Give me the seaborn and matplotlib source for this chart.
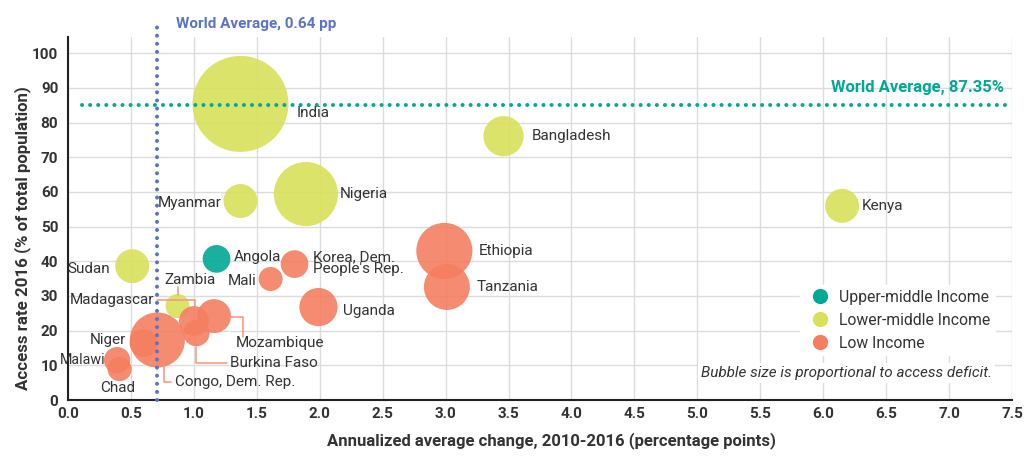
import matplotlib
matplotlib.use("Agg")
import matplotlib.pyplot as plt
import seaborn as sns
import pandas as pd
from matplotlib.lines import Line2D

# ---------------- data ----------------
countries = ["India", "Bangladesh", "Nigeria", "Myanmar", "Kenya", "Ethiopia", "Tanzania",
             "Uganda", "Angola", "Korea, Dem.\nPeople's Rep.", "Mali", "Sudan", "Zambia",
             "Madagascar", "Mozambique", "Burkina Faso", "Congo, Dem. Rep.", "Niger",
             "Malawi", "Chad"]
change = [1.37, 3.46, 1.89, 1.37, 6.15, 2.99, 3.01, 1.99, 1.18, 1.80, 1.61, 0.51, 0.87,
          1.00, 1.16, 1.02, 0.71, 0.60, 0.39, 0.41]
access = [85.4, 76.1, 59.4, 57.4, 56.0, 43.0, 32.6, 26.8, 40.7, 39.2, 34.9, 38.6, 27.1,
          22.8, 24.2, 19.3, 17.3, 16.4, 11.5, 8.9]
deficit = [240, 42, 107, 30, 30, 82, 55, 38, 20, 20, 15, 30, 15, 23, 30, 18, 79, 20, 18, 15]
income = ["Lower-middle Income", "Lower-middle Income", "Lower-middle Income",
          "Lower-middle Income", "Lower-middle Income", "Low Income", "Low Income",
          "Low Income", "Upper-middle Income", "Low Income", "Low Income",
          "Lower-middle Income", "Lower-middle Income", "Low Income", "Low Income",
          "Low Income", "Low Income", "Low Income", "Low Income", "Low Income"]
groups = ["Upper-middle Income", "Lower-middle Income", "Low Income"]
world_avg_change_label = "World Average, 0.64 pp"
world_avg_access_label = "World Average, 87.35%"
world_avg_change_pos = 0.71
world_avg_access_pos = 85.2

# ---------------- style ----------------
palette = {"Upper-middle Income": "#00a896", "Lower-middle Income": "#d9e05a",
           "Low Income": "#f47e60"}
BLUE = "#5b73c6"
TEAL = "#00a896"
LEADER = "#f4957c"
TXT = "#333333"

sns.set_theme(style="whitegrid")
plt.rcParams['font.family'] = ['Roboto', 'DejaVu Sans']

df = pd.DataFrame({"country": countries, "change": change, "access": access,
                   "deficit": deficit, "income": income})

fig = plt.figure(figsize=(10.24, 4.69), dpi=100)
ax = fig.add_axes([68 / 1024, 69 / 469, 944 / 1024, 363 / 469])

smax = (96 * 0.72) ** 2
sns.scatterplot(data=df, x="change", y="access", hue="income", palette=palette,
                size="deficit", sizes=(0, smax), size_norm=(0, max(deficit)),
                alpha=0.9, linewidth=0, legend=False, ax=ax, zorder=3)

ax.set_xlim(0, 7.5)
ax.set_ylim(0, 104.7)
ax.set_xticks([i * 0.5 for i in range(16)])
ax.set_xticklabels([f"{i * 0.5:.1f}" for i in range(16)])
ax.set_yticks(range(0, 101, 10))
ax.grid(True, color="#dcdcdc", lw=1)
for s in ["top", "right"]:
    ax.spines[s].set_visible(False)
for s in ["left", "bottom"]:
    ax.spines[s].set_color("#222222")
    ax.spines[s].set_linewidth(1.5)
ax.tick_params(axis="both", length=0, labelsize=11, labelcolor=TXT)
ax.tick_params(axis="x", pad=5)
ax.tick_params(axis="y", pad=7)
for lab in ax.get_xticklabels() + ax.get_yticklabels():
    lab.set_fontweight("bold")
ax.set_xlabel("Annualized average change, 2010-2016 (percentage points)",
              fontsize=12, fontweight="bold", color=TXT)
ax.set_ylabel("Access rate 2016 (% of total population)",
              fontsize=12.2, fontweight="bold", color=TXT)
ax.xaxis.set_label_coords(0.512, -0.088)
ax.yaxis.set_label_coords(-0.039, 0.446)

# world average lines
ax.plot([world_avg_change_pos, world_avg_change_pos], [0, 108.7], color=BLUE, lw=2.9,
        ls=(0, (0.01, 2.0)), dash_capstyle="round", clip_on=False, zorder=4)
ax.plot([0.11, 7.5], [world_avg_access_pos, world_avg_access_pos], color=TEAL, lw=2.9,
        ls=(0, (0.01, 2.0)), dash_capstyle="round", clip_on=False, zorder=4)
ax.text(0.86, 108.5, world_avg_change_label, color=BLUE, fontsize=11, fontweight="bold",
        ha="left", va="center", clip_on=False)
ax.text(7.44, 90.0, world_avg_access_label, color=TEAL, fontsize=12, fontweight="bold",
        ha="right", va="center", clip_on=False)

# labels: offsets in pixels (image coords, y down), alignment
label_pos = {
    "India": (56, 9, "left"), "Bangladesh": (28, 0, "left"), "Nigeria": (34, 0, "left"),
    "Myanmar": (-19, 2, "right"), "Kenya": (20, 0, "left"), "Ethiopia": (34, 0, "left"),
    "Tanzania": (30, 0, "left"), "Uganda": (25, 4, "left"), "Angola": (17, -2, "left"),
    "Korea, Dem.\nPeople's Rep.": (18, -1, "left"), "Mali": (-14, 2, "right"),
    "Sudan": (-22, 3, "right"), "Zambia": (12, -26, "center"),
    "Madagascar": (-40, -21, "right"), "Niger": (-18, -3, "right"),
    "Malawi": (-12, 0, "right"), "Chad": (-2, 19, "center"),
    "Mozambique": (22, 27, "left"), "Burkina Faso": (34, 30, "left"),
    "Congo, Dem. Rep.": (18, 42, "left"),
}
for c, x, y in zip(countries, change, access):
    dx, dy, ha = label_pos[c]
    fs = 10.3 if c == "Malawi" else 11
    ax.annotate(c, (x, y), xytext=(dx, -dy), textcoords="offset pixels", ha=ha,
                va="center", fontsize=fs, color=TXT, linespacing=0.85, zorder=6)

# leader lines (pixel offsets from bubble centre, image coords)
leaders = {
    "Zambia": [(0, -19), (0, -11)],
    "Madagascar": [(-37, -21), (1, -21), (1, -15)],
    "Mozambique": [(16, 1), (29, 1), (29, 21)],
    "Burkina Faso": [(0, 14), (0, 30), (31, 30)],
    "Congo, Dem. Rep.": [(7, 25), (7, 42), (14, 42)],
}
for c, pts in leaders.items():
    i = countries.index(c)
    cx, cy = ax.transData.transform((change[i], access[i]))
    xs = [cx + p[0] for p in pts]
    ys = [cy - p[1] for p in pts]
    fig.add_artist(Line2D(xs, ys, color=LEADER, lw=1.1, transform=None, zorder=5))

# legend
handles = [Line2D([], [], marker="o", ls="", markersize=11, markerfacecolor=palette[g],
                  markeredgewidth=0) for g in groups]
leg = ax.legend(handles, groups, loc="upper left", bbox_to_anchor=(0.767, 0.338),
                frameon=True, fontsize=11.3, handletextpad=0.2, labelspacing=0.5,
                borderpad=0.3, facecolor="white", edgecolor="white", framealpha=1)
for t in leg.get_texts():
    t.set_color(TXT)
leg.set_zorder(7)
ax.text(7.34, 7.8, "Bubble size is proportional to access deficit.", fontsize=11,
        style="italic", color=TXT, ha="right", va="center", zorder=7,
        bbox=dict(facecolor="white", edgecolor="none", pad=2))

fig.savefig("out.png", dpi=100)
